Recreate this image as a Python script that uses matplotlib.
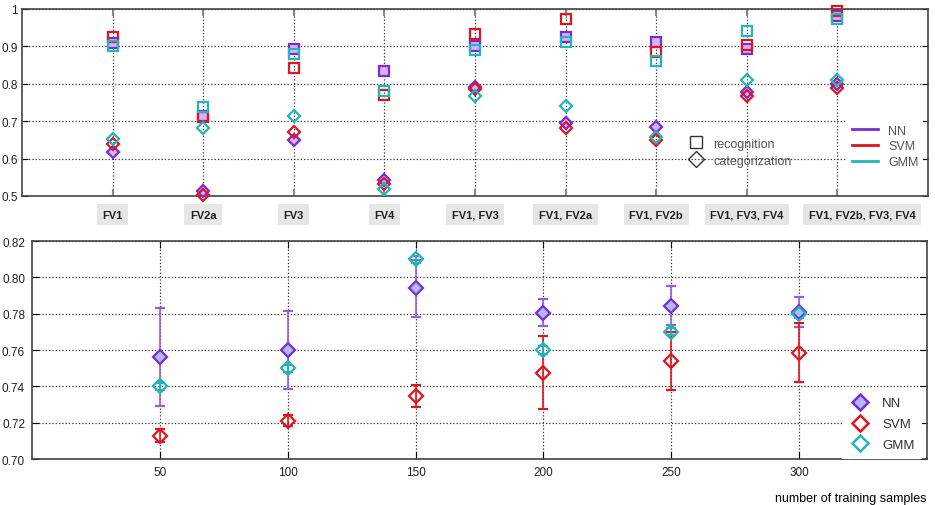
import numpy as np
import matplotlib
matplotlib.use("Agg")
import matplotlib.pyplot as plt
from matplotlib.lines import Line2D
from matplotlib.transforms import ScaledTranslation

plt.rcParams['font.family'] = ['Liberation Sans', 'DejaVu Sans']
plt.rcParams['font.size'] = 8.5

# top panel: feature vector combinations
feature_sets = ['FV1', 'FV2a', 'FV3', 'FV4', 'FV1, FV3', 'FV1, FV2a',
                'FV1, FV2b', 'FV1, FV3, FV4', 'FV1, FV2b, FV3, FV4']
rec_nn = [0.91, 0.715, 0.893, 0.833, 0.902, 0.924, 0.913, 0.893, 0.98]
rec_svm = [0.925, 0.711, 0.843, 0.769, 0.933, 0.972, 0.886, 0.905, 0.995]
rec_gmm = [0.90, 0.737, 0.88, 0.782, 0.891, 0.911, 0.86, 0.942, 0.972]
cat_nn = [0.617, 0.513, 0.65, 0.542, 0.791, 0.694, 0.684, 0.779, 0.80]
cat_svm = [0.64, 0.502, 0.671, 0.533, 0.785, 0.681, 0.649, 0.766, 0.788]
cat_gmm = [0.653, 0.682, 0.713, 0.518, 0.767, 0.74, 0.659, 0.811, 0.81]

# bottom panel: number of training samples
samples = [50, 100, 150, 200, 250, 300]
nn_mean = [0.756, 0.760, 0.794, 0.7806, 0.7843, 0.781]
nn_err = [0.027, 0.0216, 0.0157, 0.0075, 0.0107, 0.0083]
svm_mean = [0.7128, 0.7211, 0.7348, 0.7476, 0.754, 0.7586]
svm_err = [0.0035, 0.003, 0.006, 0.02, 0.016, 0.016]
gmm_mean = [0.740, 0.750, 0.810, 0.760, 0.770, 0.7797]
gmm_err = [0.002, 0.002, 0.002, 0.002, 0.002, 0.002]

purple = '#7a2ad6'
red = '#e3141c'
cyan = '#22b5bd'
fill_top = '#d6b2f7'
fill_bot = '#b3b8f7'

fig = plt.figure(figsize=(9.35, 5.06), dpi=100)

# ---------- top ----------
ax1 = fig.add_axes([0.0235, 0.6107, 0.969, 0.3696])
pos = np.arange(1, len(feature_sets) + 1)
sq = dict(ms=6.8, mew=1.6, clip_on=False, zorder=3)
dm = dict(ms=6.2, mew=1.6, clip_on=False, zorder=3)
ax1.plot(pos, rec_nn, 's', mec=purple, mfc=fill_top, **sq)
ax1.plot(pos, rec_svm, 's', mec=red, mfc='none', **sq)
ax1.plot(pos, rec_gmm, 's', mec=cyan, mfc='none', **sq)
ax1.plot(pos, cat_nn, 'D', mec=purple, mfc=fill_top, **dm)
ax1.plot(pos, cat_svm, 'D', mec=red, mfc='none', **dm)
ax1.plot(pos, cat_gmm, 'D', mec=cyan, mfc='none', **dm)

ax1.set_xlim(0, 10)
ax1.set_ylim(0.5, 1.0)
ax1.set_xticks(pos)
ax1.set_yticks([0.5, 0.6, 0.7, 0.8, 0.9, 1.0])
ax1.set_yticklabels(['0.5', '0.6', '0.7', '0.8', '0.9', '1'])
ax1.tick_params(axis='x', direction='in', length=5, width=1.5, color='#888888',
                top=True, pad=10)
ax1.tick_params(axis='y', direction='in', length=4, right=True, pad=3)
ax1.set_xticklabels(feature_sets, fontweight='bold', fontsize=8)
for lbl in ax1.get_xticklabels():
    lbl.set_bbox(dict(facecolor='#e6e6e6', edgecolor='none', pad=4))
# the long last label sits a bit to the right of its tick
last = ax1.get_xticklabels()[-1]
last.set_transform(last.get_transform() + ScaledTranslation(0.25, 0, fig.dpi_scale_trans))
ax1.grid(True, linestyle=':', color='#333333', linewidth=0.9)

mk_handles = [Line2D([], [], ls='none', marker='s', ms=9, mec='#333333', mfc='none', mew=1),
              Line2D([], [], ls='none', marker='D', ms=8, mec='#333333', mfc='none', mew=1)]
leg1 = ax1.legend(mk_handles, ['recognition', 'categorization'], loc='center left',
                  bbox_to_anchor=(0.738, 0.235), frameon=False, handlelength=0.9,
                  handletextpad=0.9, labelspacing=0.4, borderaxespad=0,
                  borderpad=0, fontsize=9)
for t in leg1.get_texts():
    t.set_color('#555555')
ax1.add_artist(leg1)

ln_handles = [Line2D([], [], color=purple, lw=2),
              Line2D([], [], color=red, lw=2),
              Line2D([], [], color=cyan, lw=2)]
leg2 = ax1.legend(ln_handles, ['NN', 'SVM', 'GMM'], loc='center right',
                  bbox_to_anchor=(0.995, 0.265), frameon=True, facecolor='white',
                  edgecolor='none', framealpha=1, fancybox=False, handlelength=2.1,
                  handletextpad=0.8, labelspacing=0.3, borderaxespad=0, fontsize=9)
for t in leg2.get_texts():
    t.set_color('#555555')

# ---------- bottom ----------
ax2 = fig.add_axes([0.0342, 0.0909, 0.9572, 0.4308])
eb = dict(capsize=3.6, elinewidth=1.2, capthick=1.2, mew=1.6, ms=6.8, clip_on=False)
ax2.errorbar(samples, nn_mean, yerr=nn_err, fmt='D', color=purple, ecolor='#9a5ae0',
             mfc=fill_bot, mec=purple, zorder=3, **eb)
ax2.errorbar(samples, svm_mean, yerr=svm_err, fmt='D', color=red, mfc='none', mec=red,
             zorder=3, **eb)
ax2.errorbar(samples, gmm_mean, yerr=gmm_err, fmt='D', color=cyan, mfc='none', mec=cyan,
             zorder=3, **eb)
ax2.set_xlim(0, 350)
ax2.set_ylim(0.70, 0.82)
ax2.set_xticks(samples)
ax2.set_yticks(np.arange(0.70, 0.821, 0.02))
ax2.set_yticklabels(['%.2f' % v for v in np.arange(0.70, 0.821, 0.02)])
ax2.tick_params(direction='in', length=5, right=True, top=True, pad=5)
ax2.grid(True, linestyle=':', color='#333333', linewidth=0.9)
ax2.set_xlabel('number of training samples', loc='right', labelpad=10, fontsize=9)

dia_handles = [Line2D([], [], ls='none', marker='D', ms=8.5, mec=purple, mfc=fill_bot, mew=1.8),
               Line2D([], [], ls='none', marker='D', ms=8.5, mec=red, mfc='none', mew=1.8),
               Line2D([], [], ls='none', marker='D', ms=8.5, mec=cyan, mfc='none', mew=1.8)]
leg3 = ax2.legend(dia_handles, ['NN', 'SVM', 'GMM'], loc='lower right',
                  bbox_to_anchor=(0.995, 0.0), frameon=True,
                  facecolor='white', edgecolor='none', framealpha=1, fancybox=False,
                  handlelength=1.5, handletextpad=0.9, labelspacing=0.65,
                  borderaxespad=0, borderpad=0.6, fontsize=9.5)
for t in leg3.get_texts():
    t.set_color('#333333')

for ax in (ax1, ax2):
    for s in ax.spines.values():
        s.set_color('#444444')
        s.set_linewidth(1.2)
    ax.tick_params(labelcolor='#222222')

fig.savefig('out.png', dpi=100)
